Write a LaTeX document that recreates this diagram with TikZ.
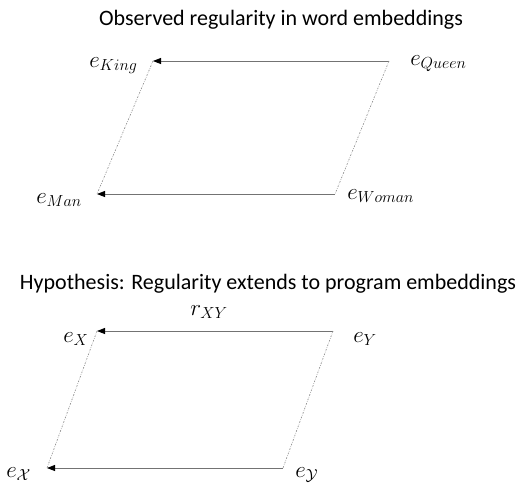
\documentclass[tikz,border=0pt]{standalone}
\usepackage{fontspec}
\setmainfont{Carlito}
\usetikzlibrary{arrows.meta}
\begin{document}
\begin{tikzpicture}[x=0.75pt,y=-0.75pt,
  title/.style={font=\fontsize{16.5}{20}\selectfont, anchor=base, inner sep=0pt},
  lab/.style={font=\fontsize{17.5}{21}\selectfont, anchor=base west, inner sep=0pt},
  harrow/.style={draw=black!55, line width=0.65pt, -{Triangle[length=6pt,width=4.5pt,color=black]}},
  side/.style={draw=black!45, line width=0.5pt, dash pattern=on 1.2pt off 1pt on 0.4pt off 1pt}]
\useasboundingbox (0,0) rectangle (521,486);
% top
\node[title] (t1) at (281,25) {Observed regularity in word embeddings};
\coordinate (K) at (153,61);
\coordinate (Q) at (389,61);
\coordinate (M) at (97,194);
\coordinate (W) at (335,194);
\node[lab] (lK) at (89,67) {$e_{King}$};
\node[lab] (lQ) at (410,65) {$e_{Queen}$};
\node[lab] (lM) at (36,203) {$e_{Man}$};
\node[lab] (lW) at (347,199) {$e_{Woman}$};
\draw[harrow] (Q) -- (K);
\draw[harrow] (W) -- (M);
\draw[side] (K) -- (M);
\draw[side] (Q) -- (W);
% bottom
\node[title] (t2) at (268,289) {Hypothesis: Regularity extends to program embeddings};
\coordinate (X) at (97,331);
\coordinate (Y) at (333,331);
\coordinate (XX) at (47,468);
\coordinate (YY) at (283,468);
\node[lab] (lX) at (63,342) {$e_X$};
\node[lab] (lY) at (353,342) {$e_Y$};
\node[lab] (lr) at (190,315) {$r_{XY}$};
\node[lab] (lXX) at (6,477) {$e_{\mathcal{X}}$};
\node[lab] (lYY) at (295,477) {$e_{\mathcal{Y}}$};
\draw[harrow] (Y) -- (X);
\draw[harrow] (YY) -- (XX);
\draw[side] (X) -- (XX);
\draw[side] (Y) -- (YY);
\end{tikzpicture}
\end{document}
